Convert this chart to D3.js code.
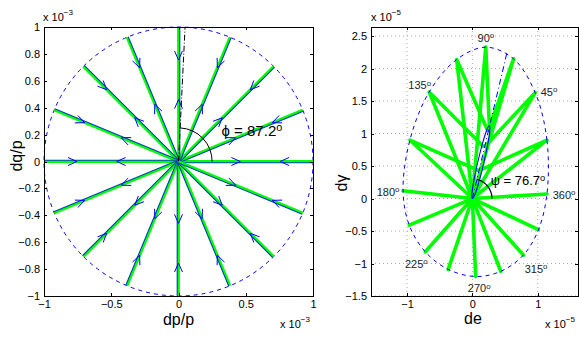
<!DOCTYPE html>
<html>
<head>
<meta charset="utf-8">
<script src="https://cdn.jsdelivr.net/npm/d3@7"></script>
<style>
  body { margin: 0; background: #fff; }
  text { font-family: "Liberation Sans", Arial, sans-serif; }
</style>
</head>
<body>
<svg width="579" height="338"></svg>
<script>
// ---- left panel: input directions (dp/p, dq/p), units of 1e-3
var spokeAngles = [0, 22.5, 45, 67.5, 90, 112.5, 135, 157.5, 180, 202.5, 225, 247.5, 270, 292.5, 315, 337.5];
var spokeRadius = 1;
var arrowOutAt = 0.46;   // arrow pointing away from origin
var arrowInAt = 0.755;   // arrow pointing back to origin
var phiAngle = 87.2;
var phiArcRadius = 0.25;
var leftTicksX = [-1, -0.5, 0, 0.5, 1];
var leftTicksY = [-1, -0.8, -0.6, -0.4, -0.2, 0, 0.2, 0.4, 0.6, 0.8, 1];

// ---- right panel: response (de, dgamma), units of 1e-5
var deOut = [1.14, 1.14, 0.96, 0.63, 0.205, -0.24, -0.66, -0.955, -1.06, -0.965, -0.72, -0.37, 0.05, 0.435, 0.78, 1.01];
var dgOut = [0.07, 0.9, 1.63, 2.15, 2.33, 2.14, 1.64, 0.9, 0.12, -0.41, -0.82, -1.09, -1.2, -1.12, -0.87, -0.48];
// where each return path ends
var deBack = [0, 0.1, 0.18, 0.24, 0.26, 0.24, 0.18, 0.1, 0, 0, 0, 0, 0, 0, 0, 0];
var dgBack = [0, 0.43, 0.79, 1.03, 1.12, 1.03, 0.79, 0.43, 0, 0, 0, 0, 0, 0, 0, 0];
var innerTip = [0.26, 1.12];
var innerHalfWidth = 3; // px
var psiAngle = 76.7;
var psiArcRadius = 0.3;
var psiLineEnd = [0.53, 2.25];
var angleLabels = ["90", "45", "135", "180", "360", "225", "270", "315"];
var labelDe = [0.08, 1.044, -0.98, -1.463, 1.228, -1.03, -0.07, 0.80];
var labelDg = [2.41, 1.58, 1.68, 0.04, 0.0, -1.065, -1.44, -1.14];
var rightTicksX = [-1, 0, 1];
var rightTicksY = [-1.5, -1, -0.5, 0, 0.5, 1, 1.5, 2, 2.5];

var svg = d3.select("svg");
var fmt = d3.format("~g");
var font = '"Liberation Sans", Arial, sans-serif';

function drawAxes(x, y, tx, ty) {
  var g = svg.append("g").attr("shape-rendering", "crispEdges");
  g.append("g").attr("transform", "translate(0," + y.range()[0] + ")")
    .call(d3.axisBottom(x).tickValues(tx).tickSize(-3).tickPadding(4).tickFormat(fmt));
  g.append("g").attr("transform", "translate(0," + y.range()[1] + ")")
    .call(d3.axisTop(x).tickValues(tx).tickSize(-3).tickFormat(""));
  g.append("g").attr("transform", "translate(" + x.range()[0] + ",0)")
    .call(d3.axisLeft(y).tickValues(ty).tickSize(-3).tickPadding(4).tickFormat(fmt));
  g.append("g").attr("transform", "translate(" + x.range()[1] + ",0)")
    .call(d3.axisRight(y).tickValues(ty).tickSize(-3).tickFormat(""));
  g.selectAll(".domain").remove();
  g.selectAll("g").attr("font-size", 11).attr("font-family", font);
  g.selectAll("text").attr("fill", "#000");
  g.selectAll("line").attr("stroke", "#000");
  g.append("rect")
    .attr("x", x.range()[0]).attr("y", y.range()[1])
    .attr("width", x.range()[1] - x.range()[0])
    .attr("height", y.range()[0] - y.range()[1])
    .attr("fill", "none").attr("stroke", "#000");
}

function exponentLabel(xp, yp, exp, anchor) {
  var t = svg.append("text").attr("x", xp).attr("y", yp)
    .attr("font-size", 11).attr("text-anchor", anchor || "start");
  t.append("tspan").text("x 10");
  t.append("tspan").attr("dy", -6).attr("font-size", 8).text(exp);
}

function degText(sel, txt) {
  sel.append("tspan").text(txt);
  sel.append("tspan").attr("dy", "-0.45em").attr("font-size", "0.72em").text("o");
}

// ================= left panel =================
var x1 = d3.scaleLinear().domain([-1, 1]).range([44, 313]);
var y1 = d3.scaleLinear().domain([-1, 1]).range([296, 27]);

var left = svg.append("g");
var cx1 = x1(0), cy1 = y1(0);

left.append("ellipse")
  .attr("cx", cx1).attr("cy", cy1)
  .attr("rx", x1(spokeRadius) - cx1).attr("ry", cy1 - y1(spokeRadius))
  .attr("fill", "none").attr("stroke", "#0000ff")
  .attr("stroke-width", 1).attr("stroke-dasharray", "4,4");

spokeAngles.forEach(function(a) {
  var r = a * Math.PI / 180;
  var ex = x1(spokeRadius * Math.cos(r)), ey = y1(spokeRadius * Math.sin(r));
  var len = Math.hypot(ex - cx1, ey - cy1);
  var ux = (ex - cx1) / len, uy = (ey - cy1) / len;
  var nx = -uy, ny = ux;
  left.append("line")
    .attr("x1", cx1).attr("y1", cy1).attr("x2", ex).attr("y2", ey)
    .attr("stroke", "#00ff00").attr("stroke-width", 2.8);
  left.append("line")
    .attr("x1", cx1 + nx * 1.3).attr("y1", cy1 + ny * 1.3)
    .attr("x2", ex + nx * 1.3).attr("y2", ey + ny * 1.3)
    .attr("stroke", "#0a3cc8").attr("stroke-width", 1.1);
  [[arrowOutAt, 1], [arrowInAt, -1]].forEach(function(p) {
    var tx = x1(p[0] * spokeRadius * Math.cos(r)), ty = y1(p[0] * spokeRadius * Math.sin(r));
    var dx = ux * p[1], dy = uy * p[1];
    var L = 9, W = 4;
    left.append("path")
      .attr("d", "M" + (tx - dx * L + nx * W) + "," + (ty - dy * L + ny * W) +
        "L" + tx + "," + ty +
        "L" + (tx - dx * L - nx * W) + "," + (ty - dy * L - ny * W))
      .attr("fill", "none").attr("stroke", "#0000ff").attr("stroke-width", 1);
  });
});

var phiR = phiAngle * Math.PI / 180;
left.append("line")
  .attr("x1", cx1).attr("y1", cy1)
  .attr("x2", x1(Math.cos(phiR) / Math.sin(phiR))).attr("y2", y1(1))
  .attr("stroke", "#000").attr("stroke-width", 1).attr("stroke-dasharray", "6,2,1,2");

var ra = x1(phiArcRadius) - cx1;
left.append("path")
  .attr("d", "M" + (cx1 + ra) + "," + cy1 + "A" + ra + "," + ra + " 0 0 0 " +
    (cx1 + ra * Math.cos(phiR)) + "," + (cy1 - ra * Math.sin(phiR)))
  .attr("fill", "none").attr("stroke", "#000").attr("stroke-width", 1);

degText(left.append("text").attr("x", x1(0.32)).attr("y", y1(0.19)).attr("font-size", 15),
  "\u03d5 = " + phiAngle);

drawAxes(x1, y1, leftTicksX, leftTicksY);
exponentLabel(43, 21, "\u22123");
exponentLabel(280, 328, "\u22123");
svg.append("text").attr("x", 178.5).attr("y", 325).attr("text-anchor", "middle")
  .attr("font-size", 16).text("dp/p");
svg.append("text").attr("transform", "translate(22,156) rotate(-90)")
  .attr("text-anchor", "middle").attr("font-size", 16).text("dq/p");

// ================= right panel =================
var x2 = d3.scaleLinear().domain([-1.55, 1.615]).range([371, 578]);
var y2 = d3.scaleLinear().domain([-1.5, 2.64]).range([296, 27]);
var right = svg.append("g");

// dotted grid
right.selectAll(".gx").data(rightTicksX).enter().append("line")
  .attr("x1", function(d) { return x2(d); }).attr("x2", function(d) { return x2(d); })
  .attr("y1", y2.range()[0]).attr("y2", y2.range()[1])
  .attr("stroke", "#aaa").attr("stroke-width", 1).attr("stroke-dasharray", "1,3");
right.selectAll(".gy").data(rightTicksY).enter().append("line")
  .attr("y1", function(d) { return y2(d); }).attr("y2", function(d) { return y2(d); })
  .attr("x1", x2.range()[0]).attr("x2", x2.range()[1])
  .attr("stroke", "#aaa").attr("stroke-width", 1).attr("stroke-dasharray", "1,3");

var cx2 = x2(0), cy2 = y2(0);

// trajectories: out to the end point, then back
deOut.forEach(function(d, i) {
  var pts = [[0, 0], [deOut[i], dgOut[i]], [deBack[i], dgBack[i]]];
  right.append("path")
    .attr("d", d3.line().x(function(p) { return x2(p[0]); }).y(function(p) { return y2(p[1]); })(pts))
    .attr("fill", "none").attr("stroke", "#00ff00").attr("stroke-width", 3.6)
    .attr("stroke-linejoin", "round");
});

// outer dashed ellipse through the end points
var outerPts = deOut.map(function(d, i) { return [x2(d), y2(dgOut[i])]; });
right.append("path")
  .attr("d", d3.line().curve(d3.curveCatmullRomClosed.alpha(0.5))(outerPts))
  .attr("fill", "none").attr("stroke", "#0000ff").attr("stroke-width", 1)
  .attr("stroke-dasharray", "4,4");

// thin inner ellipse of return points
var tipX = x2(innerTip[0]), tipY = y2(innerTip[1]);
var rot = Math.atan2(tipY - cy2, tipX - cx2) * 180 / Math.PI;
right.append("ellipse")
  .attr("cx", (tipX + cx2) / 2).attr("cy", (tipY + cy2) / 2)
  .attr("rx", Math.hypot(tipX - cx2, tipY - cy2) / 2).attr("ry", innerHalfWidth)
  .attr("transform", "rotate(" + rot + "," + (tipX + cx2) / 2 + "," + (tipY + cy2) / 2 + ")")
  .attr("fill", "none").attr("stroke", "#0000ff").attr("stroke-width", 1);

right.append("line")
  .attr("x1", cx2).attr("y1", cy2)
  .attr("x2", x2(psiLineEnd[0])).attr("y2", y2(psiLineEnd[1]))
  .attr("stroke", "#0000ff").attr("stroke-width", 1).attr("stroke-dasharray", "6,3,1,3");

var psiR = psiAngle * Math.PI / 180;
var rb = x2(psiArcRadius) - cx2;
right.append("path")
  .attr("d", "M" + (cx2 + rb) + "," + cy2 + "A" + rb + "," + rb + " 0 0 0 " +
    (cx2 + rb * Math.cos(psiR)) + "," + (cy2 - rb * Math.sin(psiR)))
  .attr("fill", "none").attr("stroke", "#000033").attr("stroke-width", 1.2);

degText(right.append("text").attr("x", x2(0.28)).attr("y", y2(0.21)).attr("font-size", 13),
  "\u03c8 = " + psiAngle);

angleLabels.forEach(function(t, i) {
  degText(right.append("text").attr("x", x2(labelDe[i])).attr("y", y2(labelDg[i]))
    .attr("font-size", 11).attr("fill", "#222"), t);
});

drawAxes(x2, y2, rightTicksX, rightTicksY);
exponentLabel(371, 21, "\u22125");
exponentLabel(545, 328, "\u22125");
svg.append("text").attr("x", 473).attr("y", 324).attr("text-anchor", "middle")
  .attr("font-size", 16).text("de");
svg.append("text").attr("transform", "translate(347,183) rotate(-90)")
  .attr("text-anchor", "middle").attr("font-size", 16).text("d\u03b3");
</script>
</body>
</html>
